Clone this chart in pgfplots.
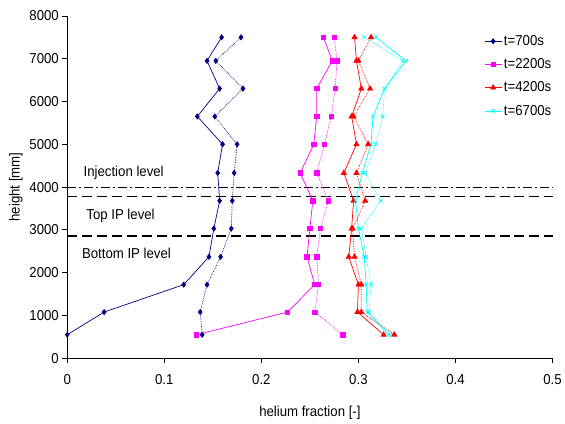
\documentclass[border=0pt]{standalone}
\usepackage{fontspec}
\setmainfont{Liberation Sans}[FakeStretch=0.92]
\usepackage{pgfplots}
\pgfplotsset{compat=1.18}
\definecolor{navyc}{RGB}{0,0,128}
\definecolor{magc}{RGB}{255,0,255}
\definecolor{redc}{RGB}{255,0,0}
\definecolor{cyanc}{RGB}{0,255,255}
\newcommand{\cf}{\fontsize{14.5}{17}\selectfont}
\begin{document}
\begin{tikzpicture}
\begin{axis}[
  scale only axis,
  width=488.3bp, height=344.5bp,
  xmin=0, xmax=0.5, ymin=0, ymax=8000,
  axis x line*=bottom, axis y line*=left,
  tick align=outside,
  major tick length=5bp,
  xtick={0,0.1,0.2,0.3,0.4,0.5},
  xticklabels={0,0.1,0.2,0.3,0.4,0.5},
  ytick={0,1000,2000,3000,4000,5000,6000,7000,8000},
  yticklabels={0,1000,2000,3000,4000,5000,6000,7000,8000},
  tick label style={font=\cf},
  xticklabel style={yshift=-8bp},
  label style={font=\cf},
  xlabel={helium fraction [-]},
  ylabel={height [mm]},
  xlabel style={at={(axis description cs:0.5,-0.16)}, anchor=center},
  ylabel style={at={(axis description cs:-0.106,0.5)}, anchor=center},
  axis line style={black, line width=0.8pt},
  tick style={black, line width=0.8pt},
  legend style={draw=none, fill=none, font=\cf, at={(0.853,0.955)}, anchor=north west, row sep=7.8bp},
  legend cell align=left,
  clip=false,
]
% reference levels
\addplot[black, line width=0.9pt, dash pattern=on 9bp off 3bp on 2bp off 3bp, forget plot] coordinates {(0,4000) (0.5,4000)};
\addplot[black, line width=1.7pt, dash pattern=on 10bp off 5bp, forget plot] coordinates {(0,3780) (0.5,3780)};
\addplot[black, line width=1.7pt, dash pattern=on 10bp off 5bp, forget plot] coordinates {(0,2860) (0.5,2860)};
\node[anchor=west, inner sep=0pt, font=\cf] at (axis cs:0.0167,4337) {Injection level};
\node[anchor=west, inner sep=0pt, font=\cf] at (axis cs:0.0195,3326) {Top IP level};
\node[anchor=west, inner sep=0pt, font=\cf] at (axis cs:0.015,2442) {Bottom IP level};
% t=700s
\addplot[navyc, line width=0.7pt, mark=diamond*, mark size=2.6pt, mark options={solid}] coordinates {
(0.159,7500) (0.144,6950) (0.157,6300) (0.134,5650) (0.160,5000) (0.155,4330)
(0.157,3680) (0.151,3030) (0.146,2370) (0.120,1720) (0.038,1080) (0.000,550)};
\addlegendentry{t=700s}
% t=2200s
\addplot[magc, line width=0.7pt, mark=square*, mark size=2.2pt, mark options={solid}] coordinates {
(0.264,7500) (0.273,6950) (0.257,6300) (0.257,5650) (0.254,5000) (0.240,4330)
(0.253,3680) (0.250,3030) (0.247,2370) (0.255,1720) (0.227,1080) (0.133,550)};
\addlegendentry{t=2200s}
% t=4200s
\addplot[redc, line width=0.7pt, mark=triangle*, mark size=3pt, mark options={solid}] coordinates {
(0.296,7500) (0.298,6950) (0.303,6300) (0.293,5650) (0.298,5000) (0.285,4330)
(0.295,3680) (0.293,3030) (0.290,2370) (0.300,1720) (0.299,1080) (0.326,550)};
\addlegendentry{t=4200s}
% t=6700s
\addplot[cyanc, line width=0.7pt, mark=x, mark size=2.6pt, mark options={solid}] coordinates {
(0.318,7500) (0.349,6950) (0.327,6300) (0.315,5650) (0.313,5000) (0.304,4330)
(0.297,3680) (0.300,3030) (0.306,2370) (0.308,1720) (0.309,1080) (0.331,550)};
\addlegendentry{t=6700s}
% dotted series
\addplot[navyc, line width=0.7pt, densely dotted, mark=diamond*, mark size=2.6pt, mark options={solid}, forget plot] coordinates {
(0.179,7500) (0.153,6950) (0.181,6300) (0.152,5650) (0.175,5000) (0.172,4330)
(0.170,3680) (0.169,3030) (0.158,2370) (0.144,1720) (0.137,1080) (0.139,550)};
\addplot[magc, line width=0.7pt, densely dotted, mark=square*, mark size=2.2pt, mark options={solid}, forget plot] coordinates {
(0.275,7500) (0.278,6950) (0.276,6300) (0.272,5650) (0.265,5000) (0.257,4330)
(0.269,3680) (0.261,3030) (0.257,2370) (0.259,1720) (0.255,1080) (0.284,550)};
\addplot[redc, line width=0.7pt, densely dotted, mark=triangle*, mark size=3pt, mark options={solid}, forget plot] coordinates {
(0.313,7500) (0.300,6950) (0.312,6300) (0.295,5650) (0.310,5000) (0.298,4330)
(0.307,3680) (0.294,3030) (0.296,2370) (0.303,1720) (0.303,1080) (0.337,550)};
\addplot[cyanc, line width=0.7pt, densely dotted, mark=x, mark size=2.6pt, mark options={solid}, forget plot] coordinates {
(0.306,7500) (0.346,6950) (0.327,6300) (0.325,5650) (0.318,5000) (0.307,4330)
(0.323,3680) (0.303,3030) (0.308,2370) (0.313,1720) (0.311,1080) (0.333,550)};
\end{axis}
\path ([shift={(-67.7bp,-65.5bp)}]current axis.south west) rectangle ([shift={(9bp,16bp)}]current axis.north east);
\end{tikzpicture}
\end{document}
